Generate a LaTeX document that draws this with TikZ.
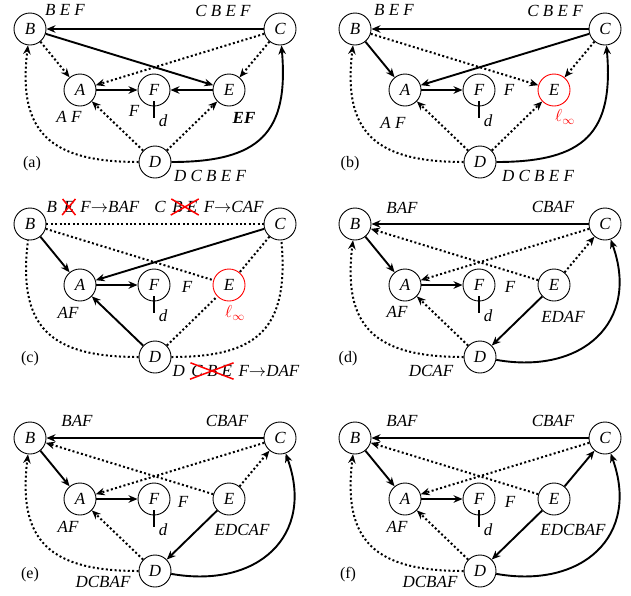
\documentclass[tikz,border=0pt]{standalone}
\usepackage{fontspec}
\setmainfont{Liberation Serif}
\usetikzlibrary{arrows.meta,calc}
\tikzset{
  vtx/.style={circle, draw, line width=0.9pt, minimum size=32pt, inner sep=0pt, font=\fontsize{17}{17}\selectfont\itshape},
  redvtx/.style={draw=red},
  lbl/.style={inner sep=0pt, font=\fontsize{17}{17}\selectfont\itshape},
  tag/.style={inner sep=0pt, font=\fontsize{16}{16}\selectfont},
  tip/.style={-{Stealth[length=9pt,width=7.5pt]}},
  sol/.style={line width=1.9pt, tip},
  dotl/.style={line width=2pt, dash pattern=on 2pt off 2.4pt},
  dot/.style={dotl, tip},
  tick/.style={line width=1.9pt},
  lcurve/.style={out=180,in=-97,looseness=1.4},
  rcurve/.style={out=0,in=-85,looseness=1.4},
  rcurveb/.style={out=-10,in=-70,looseness=1.35},
}
\newcommand{\rx}[1]{\tikz[baseline=(rxn.base)]{\node[inner sep=0pt,outer sep=0pt] (rxn) {#1};\draw[red,line width=1.5pt] ([shift={(-1.5pt,-2.5pt)}]rxn.south west) -- ([shift={(1.5pt,2.5pt)}]rxn.north east) ([shift={(-1pt,2.5pt)}]rxn.north west) -- ([shift={(1.5pt,-2.5pt)}]rxn.south east);}}
\newcommand{\mynodes}[2]{%
  \node[vtx] (#1B) at (30,29) {B};
  \node[vtx] (#1C) at (280,29) {C};
  \node[vtx] (#1A) at (80,90) {A};
  \node[vtx] (#1F) at (154,90) {F};
  \node[vtx,#2] (#1E) at (229,90) {E};
  \node[vtx] (#1D) at (155,162) {D};
  \coordinate (#1t1) at (154,101);
  \coordinate (#1t2) at (154,118);
  \draw[tick] (#1t1) -- (#1t2);
  \node[lbl] (#1dl) at (163,121) {d};
}
\begin{document}
\begin{tikzpicture}[x=1pt,y=-1pt]
\useasboundingbox (0,0) rectangle (631,595);
% ---------------- (a)
\begin{scope}[shift={(0,0)}]
\mynodes{a}{}
\draw[sol] (aC) -- (aB);
\draw[sol] (aB) -- (aE);
\draw[dot] (aB) -- (aA);
\draw[dot] (aC) -- (aA);
\draw[dot] (aC) -- (aE);
\draw[sol] (aA) -- (aF);
\draw[sol] (aE) -- (aF);
\draw[dot] (aD) -- (aA);
\draw[dot] (aD) -- (aE);
\draw[dot] (aD) to[lcurve] (aB);
\draw[sol] (aD) to[rcurve] (aC);
\node[lbl] (aL1) at (65,10) {B E F};
\node[lbl] (aL2) at (223,11) {C B E F};
\node[lbl] (aL3) at (69,117) {A F};
\node[lbl] (aL4) at (134,111) {F};
\node[lbl,font=\fontsize{17}{17}\selectfont\bfseries\itshape] (aL5) at (244,118) {EF};
\node[lbl] (aL6) at (210,176) {D C B E F};
\node[tag] (aT) at (32,164) {(a)};
\end{scope}
% ---------------- (b)
\begin{scope}[shift={(325,0)}]
\mynodes{b}{redvtx}
\draw[sol] (bC) -- (bB);
\draw[sol] (bB) -- (bA);
\draw[dot] (bB) -- (bE);
\draw[sol] (bC) -- (bA);
\draw[dot] (bC) -- (bE);
\draw[sol] (bA) -- (bF);
\draw[dot] (bD) -- (bA);
\draw[dot] (bD) -- (bE);
\draw[dot] (bD) to[lcurve] (bB);
\draw[sol] (bD) to[rcurve] (bC);
\node[lbl] (bL1) at (69,10) {B E F};
\node[lbl] (bL2) at (230,11) {C B E F};
\node[lbl] (bL3) at (68,123) {A F};
\node[lbl] (bL4) at (184,90) {F};
\node[lbl,text=red] (bL5) at (240,117) {$\ell_{\infty}$};
\node[lbl] (bL6) at (213,176) {D C B E F};
\node[tag] (bT) at (25,164) {(b)};
\end{scope}
% ---------------- (c)
\begin{scope}[shift={(0,195)}]
\mynodes{c}{redvtx}
\draw[dotl] (cB) -- (cC);
\draw[dotl] (cB) -- (cE);
\draw[sol] (cB) -- (cA);
\draw[sol] (cC) -- (cA);
\draw[dotl] (cC) -- (cE);
\draw[sol] (cA) -- (cF);
\draw[sol] (cD) -- (cA);
\draw[dotl] (cD) -- (cE);
\draw[dotl] (cD) to[lcurve] (cB);
\draw[dotl] (cD) to[rcurve] (cC);
\node[lbl] (cL1) at (93,12) {B \rx{E} F$\rightarrow$BAF};
\node[lbl] (cL2) at (209,12) {C \rx{B E} F$\rightarrow$CAF};
\node[lbl] (cL3) at (68,118) {AF};
\node[lbl] (cL4) at (187,92) {F};
\node[lbl,text=red] (cL5) at (235,118) {$\ell_{\infty}$};
\node[lbl] (cL6) at (236,176) {D \rx{C B E} F$\rightarrow$DAF};
\node[tag] (cT) at (30,164) {(c)};
\end{scope}
% ---------------- (d)
\begin{scope}[shift={(325,195)}]
\mynodes{d}{}
\draw[sol] (dC) -- (dB);
\draw[sol] (dB) -- (dA);
\draw[dot] (dE) -- (dB);
\draw[dot] (dC) -- (dA);
\draw[dot] (dE) -- (dC);
\draw[sol] (dA) -- (dF);
\draw[sol] (dE) -- (dD);
\draw[dot] (dD) -- (dA);
\draw[dot] (dD) to[lcurve] (dB);
\draw[sol] (dD) to[rcurveb] (dC);
\node[lbl] (dL1) at (77,13) {BAF};
\node[lbl] (dL2) at (228,12) {CBAF};
\node[lbl] (dL3) at (72,117) {AF};
\node[lbl] (dL4) at (185,92) {F};
\node[lbl] (dL5) at (238,122) {EDAF};
\node[lbl] (dL6) at (106,176) {DCAF};
\node[tag] (dT) at (23,164) {(d)};
\end{scope}
% ---------------- (e)
\begin{scope}[shift={(0,409)}]
\mynodes{e}{}
\draw[sol] (eC) -- (eB);
\draw[sol] (eB) -- (eA);
\draw[dot] (eE) -- (eB);
\draw[dot] (eC) -- (eA);
\draw[dot] (eE) -- (eC);
\draw[sol] (eA) -- (eF);
\draw[sol] (eE) -- (eD);
\draw[dot] (eD) -- (eA);
\draw[dot] (eD) to[lcurve] (eB);
\draw[sol] (eD) to[rcurveb] (eC);
\node[lbl] (eL1) at (77,12) {BAF};
\node[lbl] (eL2) at (227,12) {CBAF};
\node[lbl] (eL3) at (68,118) {AF};
\node[lbl] (eL4) at (183,93) {F};
\node[lbl] (eL5) at (242,121) {EDCAF};
\node[lbl] (eL6) at (103,173) {DCBAF};
\node[tag] (eT) at (30,166) {(e)};
\end{scope}
% ---------------- (f)
\begin{scope}[shift={(325,409)}]
\mynodes{f}{}
\draw[sol] (fC) -- (fB);
\draw[sol] (fB) -- (fA);
\draw[dot] (fE) -- (fB);
\draw[dot] (fC) -- (fA);
\draw[sol] (fE) -- (fC);
\draw[sol] (fA) -- (fF);
\draw[sol] (fE) -- (fD);
\draw[dot] (fD) -- (fA);
\draw[dot] (fD) to[lcurve] (fB);
\draw[sol] (fD) to[rcurveb] (fC);
\node[lbl] (fL1) at (77,12) {BAF};
\node[lbl] (fL2) at (228,12) {CBAF};
\node[lbl] (fL3) at (72,118) {AF};
\node[lbl] (fL4) at (185,93) {F};
\node[lbl] (fL5) at (248,121) {EDCBAF};
\node[lbl] (fL6) at (105,173) {DCBAF};
\node[tag] (fT) at (23,166) {(f)};
\end{scope}
\end{tikzpicture}
\end{document}
